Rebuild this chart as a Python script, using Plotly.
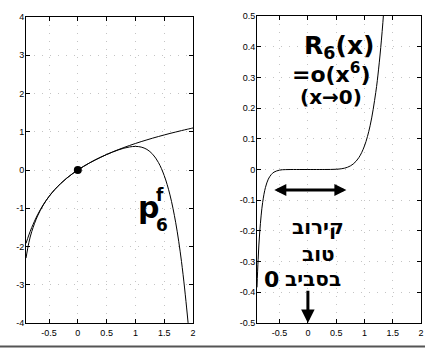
import plotly.graph_objects as go

# ---- data ----
x_left = [-0.9, -0.85, -0.8, -0.7, -0.6, -0.5, -0.4, -0.3, -0.2, -0.1, 0.0,
          0.1, 0.2, 0.3, 0.4, 0.5, 0.6, 0.7, 0.8, 0.9, 1.0, 1.1, 1.2, 1.3,
          1.4, 1.5, 1.6, 1.7, 1.8, 1.9, 1.95, 2.0]
log_vals = [-2.303, -1.897, -1.609, -1.204, -0.916, -0.693, -0.511, -0.357,
            -0.223, -0.105, 0.0, 0.095, 0.182, 0.262, 0.336, 0.405, 0.470,
            0.531, 0.588, 0.642, 0.693, 0.742, 0.788, 0.833, 0.875, 0.916,
            0.956, 0.993, 1.030, 1.065, 1.082, 1.099]
p6_vals = [-1.919, -1.698, -1.502, -1.173, -0.908, -0.691, -0.510, -0.357,
           -0.223, -0.105, 0.0, 0.095, 0.182, 0.262, 0.336, 0.405, 0.467,
           0.523, 0.570, 0.603, 0.617, 0.599, 0.538, 0.411, 0.195, -0.145,
           -0.652, -1.379, -2.390, -3.765, -4.619, -5.600]

x_right = [-0.9, -0.88, -0.85, -0.8, -0.75, -0.7, -0.65, -0.6, -0.5, -0.4,
           -0.3, -0.2, 0.0, 0.2, 0.3, 0.4, 0.5, 0.6, 0.7, 0.8, 0.9, 1.0,
           1.1, 1.2, 1.25, 1.3, 1.35, 1.4]
r6_vals = [-0.3839, -0.2930, -0.1991, -0.1071, -0.0582, -0.0314, -0.0170,
           -0.0086, -0.0020, -0.0004, -0.00004, 0.0, 0.0, 0.0, 0.00003,
           0.00017, 0.00078, 0.0026, 0.0073, 0.0177, 0.0384, 0.0765, 0.1425,
           0.2509, 0.3269, 0.4215, 0.5380, 0.6805]

x_ticks = [-0.5, 0, 0.5, 1, 1.5, 2]
x_tick_text = ["-0.5", "0", "0.5", "1", "1.5", "2"]
y1_ticks = [-4, -3, -2, -1, 0, 1, 2, 3, 4]
y1_tick_text = ["-4", "-3", "-2", "-1", "0", "1", "2", "3", "4"]
y2_ticks = [-0.5, -0.4, -0.3, -0.2, -0.1, 0, 0.1, 0.2, 0.3, 0.4, 0.5]
y2_tick_text = ["-0.5", "-0.4", "-0.3", "-0.2", "-0.1", "0", "0.1", "0.2",
                "0.3", "0.4", "0.5"]

W, H = 425, 349

fig = go.Figure()
line = dict(color="black", width=1)
fig.add_trace(go.Scatter(x=x_left, y=log_vals, mode="lines", line_shape="spline",
                         line=line, xaxis="x", yaxis="y", showlegend=False))
fig.add_trace(go.Scatter(x=x_left, y=p6_vals, mode="lines", line_shape="spline",
                         line=line, xaxis="x", yaxis="y", showlegend=False))
fig.add_trace(go.Scatter(x=[0], y=[0], mode="markers",
                         marker=dict(color="black", size=8),
                         xaxis="x", yaxis="y", showlegend=False))
fig.add_trace(go.Scatter(x=x_right, y=r6_vals, mode="lines", line_shape="spline",
                         line=line, xaxis="x2", yaxis="y2", showlegend=False))

tickfont = dict(family="Liberation Sans, Arial", size=9, color="black")
common = dict(showline=True, linecolor="black", linewidth=1, mirror="ticks",
              ticks="inside", ticklen=4, tickcolor="black", tickwidth=1,
              showgrid=True, gridcolor="#c4c4c4", gridwidth=1,
              griddash="1px,7px", zeroline=False, tickfont=tickfont,
              automargin=False)

def px_x(a, b):
    return [a / W, b / W]

def px_y(top, bottom):
    return [1 - bottom / H, 1 - top / H]

fig.update_layout(
    width=W, height=H, margin=dict(l=0, r=0, t=0, b=0),
    paper_bgcolor="white", plot_bgcolor="white",
    xaxis=dict(domain=px_x(26, 193), range=[-0.9, 2], tickvals=x_ticks,
               ticktext=x_tick_text, anchor="y", ticklabelstandoff=1, **common),
    yaxis=dict(domain=px_y(17, 323), range=[-4, 4], tickvals=y1_ticks,
               ticktext=y1_tick_text, anchor="x", ticklabelstandoff=-1, **common),
    xaxis2=dict(domain=px_x(257, 421), range=[-0.9, 2], tickvals=x_ticks,
                ticktext=x_tick_text, anchor="y2", ticklabelstandoff=1, **common),
    yaxis2=dict(domain=px_y(16, 323), range=[-0.5, 0.5], tickvals=y2_ticks,
                ticktext=y2_tick_text, anchor="x2", ticklabelstandoff=-1, **common),
)

hand = "DejaVu Sans"
ann = []
# left plot annotation: p_6^f
ann.append(dict(x=1.22, y=-0.98, xref="x", yref="y", text="<b>p</b>", showarrow=False,
                font=dict(family=hand, size=30, color="black")))
ann.append(dict(x=1.43, y=-0.66, xref="x", yref="y", text="<b>f</b>", showarrow=False,
                font=dict(family=hand, size=17, color="black")))
ann.append(dict(x=1.46, y=-1.44, xref="x", yref="y", text="<b>6</b>", showarrow=False,
                font=dict(family=hand, size=17, color="black")))
# right plot annotations
ann.append(dict(x=0.55, y=0.40, xref="x2", yref="y2", text="<b>R<sub>6</sub>(x)</b>",
                showarrow=False, font=dict(family=hand, size=25, color="black")))
ann.append(dict(x=0.41, y=0.314, xref="x2", yref="y2", text="<b>=o(x<sup>6</sup>)</b>",
                showarrow=False, font=dict(family=hand, size=22, color="black")))
ann.append(dict(x=0.40, y=0.236, xref="x2", yref="y2", text="<b>(x→0)</b>",
                showarrow=False, font=dict(family=hand, size=20, color="black")))
# double arrow
ann.append(dict(x=0.68, y=-0.067, ax=-0.62, ay=-0.067, xref="x2", yref="y2",
                axref="x2", ayref="y2", text="", showarrow=True, arrowhead=2,
                arrowside="end+start", arrowwidth=3, arrowsize=0.8, arrowcolor="black"))
# Hebrew text
ann.append(dict(x=0.17, y=-0.187, xref="x2", yref="y2", text="<b>קירוב</b>",
                showarrow=False, font=dict(family=hand, size=20, color="black")))
ann.append(dict(x=0.18, y=-0.275, xref="x2", yref="y2", text="<b>טוב</b>",
                showarrow=False, font=dict(family=hand, size=20, color="black")))
ann.append(dict(x=0.09, y=-0.357, xref="x2", yref="y2", text="<b>בסביב</b>",
                showarrow=False, font=dict(family=hand, size=20, color="black")))
ann.append(dict(x=-0.65, y=-0.357, xref="x2", yref="y2", text="<b>0</b>",
                showarrow=False, font=dict(family=hand, size=22, color="black")))
# down arrow
ann.append(dict(x=0, y=-0.5, ax=0, ay=-0.39, xref="x2", yref="y2",
                axref="x2", ayref="y2", text="", showarrow=True, arrowhead=2,
                arrowwidth=3, arrowsize=0.9, arrowcolor="black"))
fig.update_layout(annotations=ann)

# scan line under the figure
fig.add_shape(type="line", xref="paper", yref="paper", x0=0.0, x1=1.0,
              y0=2.5 / H, y1=2.5 / H, line=dict(color="#555555", width=2))

fig.write_html("out.html",
               config={"displayModeBar": False},
               post_script="document.body.style.margin='0px';"
                           "document.body.style.padding='0px';"
                           "document.body.style.overflow='hidden';")
